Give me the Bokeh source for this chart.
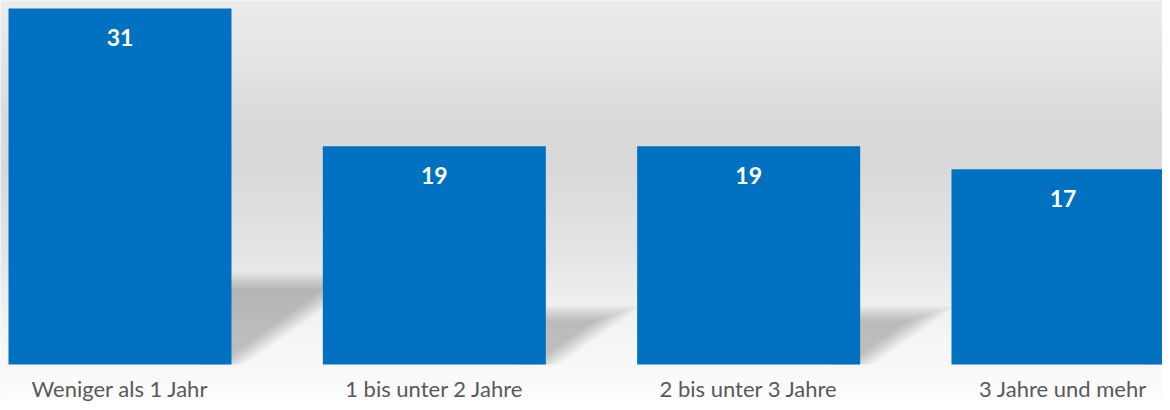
import math
from bokeh.plotting import figure
from bokeh.models import Range1d, ColumnDataSource
from bokeh.embed import file_html
from bokeh.resources import INLINE
from bokeh.core.properties import value

# ---- data ----
categories = ["Weniger als 1 Jahr", "1 bis unter 2 Jahre", "2 bis unter 3 Jahre", "3 Jahre und mehr"]
values = [31, 19, 19, 17]

BAR_COLOR = "#0070C0"
W, H = 1162, 402
TOP_PAD = 8          # px above tallest bar
BASE_PX = 364        # px from top where bars stand
FIRST_CX = 119.5     # px centre of first bar
UNIT_PX = 314.33     # px per category step
BAR_PX = 223

PX_PER_Y = (BASE_PX - TOP_PAD) / max(values)
X0 = -FIRST_CX / UNIT_PX
X1 = X0 + W / UNIT_PX
Y1 = max(values) + TOP_PAD / PX_PER_Y
Y0 = -(H - BASE_PX) / PX_PER_Y

def px_to_y(py):
    return Y1 - py / PX_PER_Y

p = figure(width=W, height=H, output_backend="svg", toolbar_location=None,
           x_range=Range1d(X0, X1), y_range=Range1d(Y0, Y1),
           min_border_left=0, min_border_right=0, min_border_top=0,
           min_border_bottom=0)
p.outline_line_color = None
p.background_fill_color = "#f6f6f6"
p.border_fill_color = "#fcfcfc"
p.grid.visible = False
p.xaxis.visible = False
p.yaxis.visible = False

# ---- background gradient, stops in px from top ----
stops = [(0, 236), (60, 228), (120, 218), (170, 217), (250, 228), (300, 238),
         (335, 245), (364, 248), (380, 250), (402, 253)]
def gray_at(py):
    for (a, ca), (b, cb) in zip(stops[:-1], stops[1:]):
        if a <= py <= b:
            t = (py - a) / (b - a)
            return int(round(ca + (cb - ca) * t))
    return stops[-1][1]

n = 134
tops, bots, cols = [], [], []
for i in range(n):
    py0 = H * i / n
    py1 = H * (i + 1) / n
    g = gray_at((py0 + py1) / 2)
    tops.append(px_to_y(py0 - 0.6))
    bots.append(px_to_y(py1 + 0.6))
    cols.append("#%02x%02x%02x" % (g, g, g))
p.quad(left=X0, right=X1, top=tops, bottom=bots, fill_color=cols, line_color=None)

# ---- soft perspective shadows, derived from bar heights ----
idx = list(range(len(values)))
bar_w = BAR_PX / UNIT_PX
layers = 12
B = 8.0
alpha = 1 - (1 - 0.22) ** (1 / layers)
for k in range(layers):
    o = -B + 2 * B * k / (layers - 1)
    xs_all, ys_all = [], []
    for i, v in zip(idx, values):
        xr_px = (i - X0) * UNIT_PX + bar_w * UNIT_PX / 2
        hpx = v * PX_PER_Y
        dy = 0.235 * hpx
        dx = 0.33 * hpx
        L = math.hypot(dx, dy)
        yb = BASE_PX
        y_t = yb - dy - o
        x_t = xr_px + (dy + o) * dx / dy + o * L / dy
        x_b = xr_px + o * L / dy
        pts = [(xr_px - 30, yb), (xr_px - 30, y_t), (x_t, y_t), (max(x_b, xr_px - 30), yb)]
        xs_all.append([X0 + px_ / UNIT_PX for px_, _ in pts])
        ys_all.append([px_to_y(py_) for _, py_ in pts])
    p.patches(xs=xs_all, ys=ys_all, fill_color="#000000", fill_alpha=alpha, line_color=None)

# ---- bars ----
src = ColumnDataSource(dict(x=idx, top=values, label=[str(v) for v in values],
                            cat=categories))
p.vbar(x="x", top="top", bottom=0, width=bar_w, source=src,
       fill_color=BAR_COLOR, line_color=None)

# value labels
p.text(x="x", y="top", text="label", source=src, y_offset=29,
       text_align="center", text_baseline="middle",
       text_color="white", text_font=value("Lato"), text_font_style="bold",
       text_font_size="23px")

# category labels
p.text(x="x", y=0, text="cat", source=src, y_offset=24,
       text_align="center", text_baseline="middle",
       text_color="#595959", text_font=value("Lato"),
       text_font_size="22px")

open("out.html", "w").write(file_html(p, INLINE))
